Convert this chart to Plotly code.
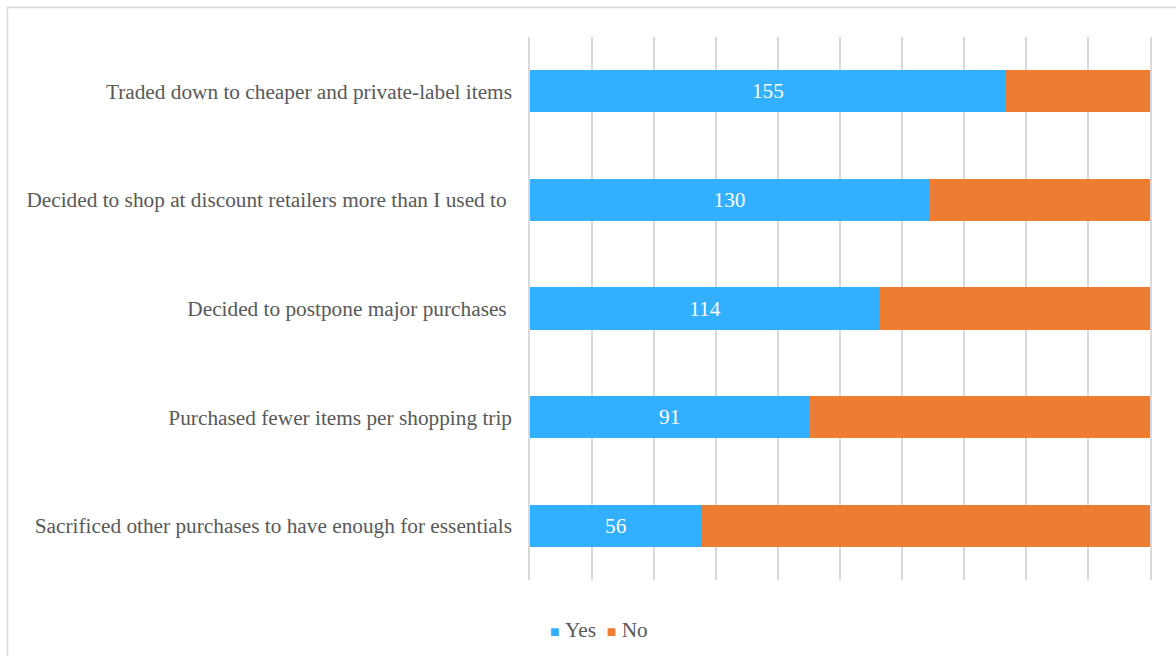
import plotly.graph_objects as go

categories = [
    "Traded down to cheaper and private-label items",
    "Decided to shop at discount retailers more than I used to ",
    "Decided to postpone major purchases ",
    "Purchased fewer items per shopping trip",
    "Sacrificed other purchases to have enough for essentials",
]
yes_values = [155, 130, 114, 91, 56]
no_values = [47, 72, 88, 111, 146]
series_names = ["Yes", "No"]
series_colors = ["#33AFFF", "#ED7D31"]

FONT = "Liberation Serif"
GREY = "#595959"
GRID = "#d9d9d9"
SIZE = 21.3

fig = go.Figure()
fig.add_trace(go.Bar(
    name=series_names[0], y=categories, x=yes_values, orientation="h",
    marker=dict(color=series_colors[0], line=dict(width=0)),
    text=yes_values, textposition="inside", insidetextanchor="middle",
    textfont=dict(family=FONT, size=SIZE, color="white"),
    hoverinfo="x+y",
))
fig.add_trace(go.Bar(
    name=series_names[1], y=categories, x=no_values, orientation="h",
    marker=dict(color=series_colors[1], line=dict(width=0)),
    hoverinfo="x+y",
))

# plot area spans 530..1150 px horizontally and 37..580 px vertically
L, R, T, B = 530, 26, 37, 76
W, H = 1176, 656
pw, ph = W - L - R, H - T - B

def px_x(p):
    return (p - L) / pw

def px_y(p):
    return (H - B - p) / ph

# compact legend: coloured square, a small gap, then the series name
legend_text = "&nbsp;&nbsp;".join(
    f"<span style='color:{c};font-size:16px'>■</span>&nbsp;{n}"
    for n, c in zip(series_names, series_colors)
)

fig.update_layout(
    width=W, height=H,
    margin=dict(l=L, r=R, t=T, b=B, pad=0),
    barmode="stack", barnorm="fraction", bargap=0.61,
    paper_bgcolor="white", plot_bgcolor="white",
    font=dict(family=FONT, size=SIZE, color=GREY),
    showlegend=False,
    xaxis=dict(
        range=[0, 1], dtick=0.1, showticklabels=False,
        showgrid=True, gridcolor=GRID, gridwidth=1.5,
        zeroline=False, showline=False, fixedrange=True,
    ),
    yaxis=dict(
        autorange="reversed", showgrid=False, zeroline=False,
        showline=True, linecolor=GRID, linewidth=1.5, mirror=True,
        ticks="outside", ticklen=12, tickcolor="rgba(0,0,0,0)",
        tickfont=dict(family=FONT, size=SIZE, color=GREY),
    ),
    annotations=[dict(
        text=legend_text, xref="paper", yref="paper",
        x=px_x(599), y=px_y(630), xanchor="center", yanchor="middle",
        showarrow=False, font=dict(family=FONT, size=SIZE, color=GREY),
    )],
    shapes=[dict(
        type="rect", xref="paper", yref="paper",
        x0=px_x(7.5), x1=px_x(1190), y0=px_y(670), y1=px_y(7.5),
        line=dict(color=GRID, width=1.5), fillcolor="rgba(0,0,0,0)",
        layer="below",
    )],
)

fig.write_html("out.html")
